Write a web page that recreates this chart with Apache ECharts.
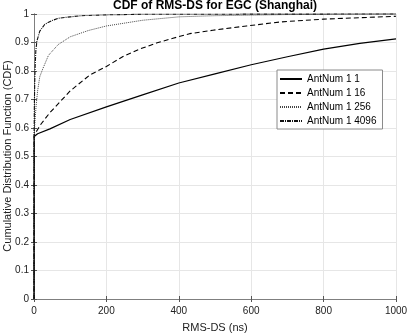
<!DOCTYPE html>
<html><head><meta charset="utf-8">
<script src="https://cdn.jsdelivr.net/npm/echarts@6/dist/echarts.min.js"></script>
<style>html,body{margin:0;padding:0;background:#fff}#c{width:409px;height:333px}</style>
</head><body><div id="c"></div>
<script>
const xTicks = [0, 200, 400, 600, 800, 1000];
const yTicks = [0, 0.1, 0.2, 0.3, 0.4, 0.5, 0.6, 0.7, 0.8, 0.9, 1];
const seriesNames = ['AntNum 1 1', 'AntNum 1 16', 'AntNum 1 256', 'AntNum 1 4096'];

const x1 = [0, 0.5, 10, 44, 100, 200, 300, 400, 500, 600, 700, 800, 900, 1000];
const y1 = [0, 0.57, 0.58, 0.597, 0.63, 0.674, 0.716, 0.758, 0.79, 0.822, 0.85, 0.877, 0.897, 0.913];

const x16 = [0, 0.5, 10, 20, 44, 100, 154, 200, 246, 292, 338, 384, 430, 494, 587, 679, 800, 1000];
const y16 = [0, 0.575, 0.595, 0.615, 0.654, 0.73, 0.786, 0.816, 0.851, 0.877, 0.898, 0.915, 0.931, 0.943, 0.958, 0.972, 0.982, 0.992];

const x256 = [0, 0.5, 3, 6, 10, 16, 25, 40, 67, 100, 150, 200, 300, 400, 500, 700, 1000];
const y256 = [0, 0.58, 0.63, 0.68, 0.73, 0.78, 0.81, 0.855, 0.893, 0.92, 0.942, 0.958, 0.978, 0.99, 0.994, 0.998, 1.0];

const x4096 = [0, 0.5, 1, 2, 3, 5, 8, 16, 30, 50, 67, 100, 130, 200, 300, 1000];
const y4096 = [0, 0.6, 0.68, 0.76, 0.81, 0.87, 0.905, 0.94, 0.964, 0.977, 0.985, 0.99, 0.994, 0.997, 0.999, 1.0];

const pairs = (xs, ys) => xs.map((x, i) => [x, ys[i]]);
const font = 'Liberation Sans, Arial, Helvetica, sans-serif';
const styles = [
  {color: '#000', width: 1.2, type: 'solid'},
  {color: '#000', width: 1.1, type: [5, 3]},
  {color: '#444', width: 1, type: [1, 1]},
  {color: '#111', width: 1.1, type: [4, 1, 1, 1]}
];
const datas = [pairs(x1, y1), pairs(x16, y16), pairs(x256, y256), pairs(x4096, y4096)];

const chart = echarts.init(document.getElementById('c'));
const axisCommon = {
  axisLine: {show: true, lineStyle: {color: '#7f7f7f', width: 1}},
  axisTick: {show: true, inside: true, length: 3, lineStyle: {color: '#555'}},
};
chart.setOption({
  animation: false,
  title: {text: 'CDF of RMS-DS for EGC (Shanghai)', left: 215, top: 0, textAlign: 'center',
    padding: 0,
    textStyle: {fontFamily: font, fontSize: 12, fontWeight: 'bold', color: '#000'}},
  grid: {left: 34, right: 13, top: 14, bottom: 34, containLabel: false, outerBoundsMode: 'none'},
  graphic: [{
    type: 'text', x: 8, y: 156, rotation: Math.PI / 2,
    style: {text: 'Cumulative Distribution Function (CDF)', fontFamily: font, fontSize: 11,
      fill: '#222', align: 'center', verticalAlign: 'middle'}
  }],
  legend: {
    orient: 'vertical', left: 277, top: 70, data: seriesNames,
    itemWidth: 22, itemHeight: 10, itemGap: 4,
    padding: [4, 6, 3, 2],
    borderColor: '#8a8a8a', borderWidth: 1, backgroundColor: '#fff',
    itemStyle: {color: 'transparent', borderWidth: 0, opacity: 0},
    textStyle: {fontFamily: font, fontSize: 10, color: '#000'}
  },
  xAxis: [
    Object.assign({type: 'value', min: 0, max: 1000, interval: 200, position: 'bottom',
      name: 'RMS-DS (ns)', nameLocation: 'middle', nameGap: 23,
      nameTextStyle: {fontFamily: font, fontSize: 11, color: '#222'},
      axisLabel: {fontFamily: font, fontSize: 10, color: '#222', margin: 7, formatter: v => String(v)},
      splitLine: {show: true, lineStyle: {color: '#e6e6e6', width: 1}}}, axisCommon),
    Object.assign({type: 'value', min: 0, max: 1000, interval: 200, position: 'top',
      axisLabel: {show: false}, splitLine: {show: false}}, axisCommon)
  ],
  yAxis: [
    Object.assign({type: 'value', min: 0, max: 1, interval: 0.1, position: 'left',
      axisLabel: {fontFamily: font, fontSize: 10, color: '#222', margin: 5,
        formatter: v => String(Math.round(v * 10) / 10)},
      splitLine: {show: true, lineStyle: {color: '#e6e6e6', width: 1}}}, axisCommon),
    Object.assign({type: 'value', min: 0, max: 1, interval: 0.1, position: 'right',
      axisLabel: {show: false}, splitLine: {show: false}}, axisCommon)
  ],
  series: seriesNames.map((n, i) => ({
    name: n, type: 'line', data: datas[i], symbol: 'none', smooth: false,
    xAxisIndex: 0, yAxisIndex: 0, clip: false,
    lineStyle: styles[i], itemStyle: {color: styles[i].color}
  }))
});
</script></body></html>
